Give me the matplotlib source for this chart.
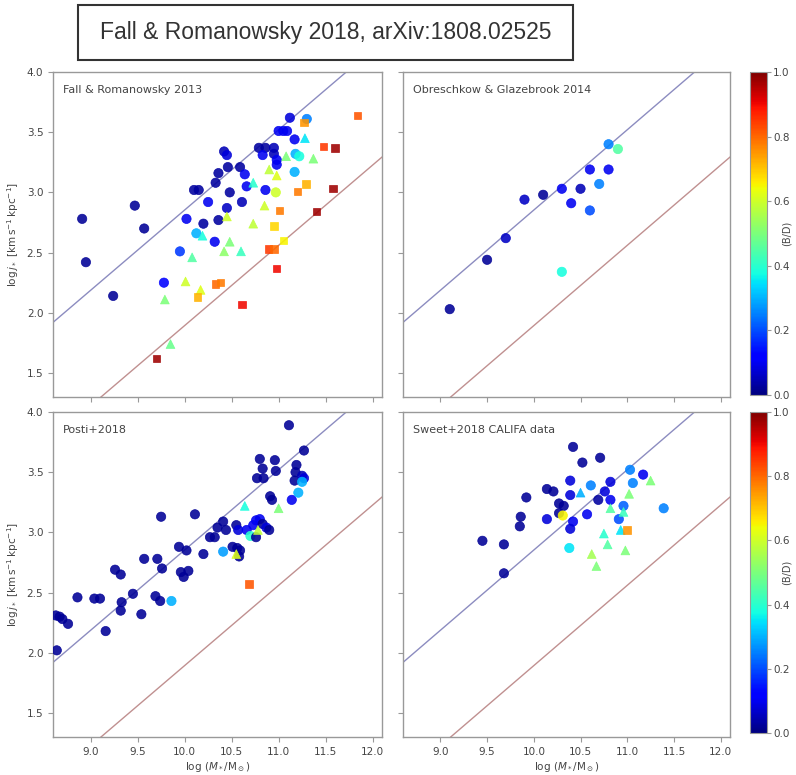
import numpy as np
import matplotlib
matplotlib.use("Agg")
import matplotlib.pyplot as plt
from matplotlib.patches import Rectangle

# ---- Fall & Romanowsky 2013 ----
fr13_circ_x = [8.91, 8.95, 9.47, 9.57, 9.24, 9.78, 9.95, 10.02, 10.10, 10.15, 10.125, 10.20,
               10.25, 10.32, 10.33, 10.36, 10.36, 10.42, 10.45, 10.46, 10.48, 10.45, 10.59,
               10.64, 10.66, 10.61, 10.79, 10.86, 10.83, 10.86, 10.95, 10.95, 10.98, 10.98,
               11.00, 11.05, 11.09, 11.12, 11.17, 11.18, 11.22, 11.17, 11.30, 10.97]
fr13_circ_y = [2.78, 2.42, 2.89, 2.70, 2.14, 2.25, 2.51, 2.78, 3.02, 3.02, 2.66, 2.74,
               2.92, 2.59, 3.08, 3.16, 2.77, 3.34, 3.31, 3.21, 3.00, 2.87, 3.21,
               3.15, 3.05, 2.92, 3.37, 3.37, 3.31, 3.02, 3.37, 3.32, 3.27, 3.23,
               3.51, 3.51, 3.51, 3.62, 3.44, 3.32, 3.30, 3.17, 3.61, 3.00]
fr13_circ_c = [0.02, 0.02, 0.02, 0.02, 0.02, 0.12, 0.18, 0.10, 0.03, 0.03, 0.30, 0.03,
               0.10, 0.10, 0.03, 0.03, 0.03, 0.05, 0.08, 0.03, 0.03, 0.06, 0.03,
               0.10, 0.10, 0.05, 0.03, 0.03, 0.10, 0.10, 0.05, 0.05, 0.10, 0.10,
               0.10, 0.10, 0.10, 0.08, 0.10, 0.30, 0.38, 0.30, 0.25, 0.60]
fr13_tri_x = [9.79, 9.85, 10.01, 10.08, 10.17, 10.19, 10.42, 10.48, 10.60, 10.45, 10.73,
              10.85, 10.90, 10.98, 10.73, 11.08, 11.28, 11.37]
fr13_tri_y = [2.11, 1.74, 2.26, 2.46, 2.19, 2.64, 2.51, 2.59, 2.51, 2.80, 2.74,
              2.89, 3.19, 3.14, 3.08, 3.30, 3.45, 3.28]
fr13_tri_c = [0.50, 0.48, 0.60, 0.45, 0.62, 0.38, 0.52, 0.50, 0.42, 0.60, 0.58,
              0.60, 0.58, 0.62, 0.40, 0.50, 0.35, 0.50]
fr13_sq_x = [9.70, 10.14, 10.33, 10.38, 10.61, 10.89, 10.95, 10.98, 11.05, 10.95, 11.01,
             11.40, 11.20, 11.29, 11.58, 11.27, 11.48, 11.60, 11.84]
fr13_sq_y = [1.62, 2.13, 2.24, 2.25, 2.07, 2.53, 2.53, 2.37, 2.60, 2.72, 2.85,
             2.84, 3.01, 3.07, 3.03, 3.58, 3.38, 3.37, 3.64]
fr13_sq_c = [0.97, 0.72, 0.80, 0.78, 0.90, 0.85, 0.80, 0.90, 0.65, 0.68, 0.78,
             0.97, 0.78, 0.72, 0.97, 0.75, 0.85, 0.97, 0.82]

# ---- Obreschkow & Glazebrook 2014 ----
og14_x = [9.10, 9.50, 9.70, 9.90, 10.10, 10.30, 10.40, 10.50, 10.60, 10.60, 10.70,
          10.80, 10.80, 10.90, 10.30]
og14_y = [2.03, 2.44, 2.62, 2.94, 2.98, 3.03, 2.91, 3.03, 3.19, 2.85, 3.07,
          3.19, 3.40, 3.36, 2.34]
og14_c = [0.02, 0.02, 0.06, 0.06, 0.02, 0.10, 0.10, 0.05, 0.10, 0.20, 0.25,
          0.10, 0.25, 0.45, 0.38]

# ---- Posti+2018 ----
p18_circ_x = [8.63, 8.67, 8.70, 8.76, 8.64, 8.86, 9.04, 9.10, 9.16, 9.26, 9.32, 9.33, 9.32,
              9.45, 9.54, 9.57, 9.71, 9.76, 9.69, 9.74, 9.86, 9.75, 9.94, 10.02, 9.96,
              9.99, 10.04, 10.11, 10.20, 10.27, 10.32, 10.35, 10.41, 10.44, 10.55, 10.57,
              10.51, 10.56, 10.59, 10.58, 10.41, 10.66, 10.70, 10.73, 10.76, 10.80, 10.76,
              10.83, 10.87, 10.90, 10.80, 10.77, 10.84, 10.83, 10.96, 10.97, 10.91, 10.93,
              11.11, 11.19, 11.18, 11.17, 11.25, 11.27, 11.27, 11.14, 11.21, 11.25]
p18_circ_y = [2.31, 2.30, 2.28, 2.24, 2.02, 2.46, 2.45, 2.45, 2.18, 2.69, 2.65, 2.42, 2.35,
              2.49, 2.32, 2.78, 2.78, 2.70, 2.47, 2.43, 2.43, 3.13, 2.88, 2.85, 2.67,
              2.63, 2.68, 3.15, 2.82, 2.96, 2.96, 3.04, 3.09, 3.02, 3.06, 3.02,
              2.88, 2.87, 2.85, 2.80, 2.84, 3.02, 2.97, 3.06, 3.10, 3.11, 2.96,
              3.07, 3.04, 3.02, 3.61, 3.45, 3.45, 3.53, 3.60, 3.51, 3.30, 3.27,
              3.89, 3.56, 3.50, 3.43, 3.47, 3.45, 3.68, 3.27, 3.33, 3.42]
p18_circ_c = [0.02, 0.02, 0.02, 0.02, 0.02, 0.02, 0.02, 0.02, 0.02, 0.02, 0.02, 0.02, 0.02,
              0.02, 0.02, 0.02, 0.02, 0.02, 0.02, 0.02, 0.30, 0.02, 0.02, 0.02, 0.02,
              0.02, 0.02, 0.02, 0.02, 0.02, 0.02, 0.02, 0.02, 0.02, 0.02, 0.08,
              0.02, 0.02, 0.02, 0.02, 0.28, 0.10, 0.40, 0.10, 0.10, 0.10, 0.02,
              0.02, 0.08, 0.02, 0.02, 0.02, 0.02, 0.02, 0.02, 0.02, 0.02, 0.02,
              0.02, 0.02, 0.02, 0.02, 0.05, 0.08, 0.02, 0.10, 0.30, 0.30]
p18_tri_x = [10.64, 11.00, 10.78, 10.55]
p18_tri_y = [3.22, 3.20, 3.02, 2.82]
p18_tri_c = [0.38, 0.50, 0.58, 0.62]
p18_sq_x = [10.68]
p18_sq_y = [2.57]
p18_sq_c = [0.82]

# ---- Sweet+2018 CALIFA ----
s18_circ_x = [9.45, 9.68, 9.68, 9.86, 9.85, 9.92, 10.14, 10.21, 10.14, 10.27, 10.32, 10.27,
              10.31, 10.39, 10.39, 10.42, 10.39, 10.42, 10.52, 10.71, 10.38, 10.61, 10.57,
              10.76, 10.69, 10.82, 10.82, 10.91, 10.96, 11.03, 11.06, 11.17, 11.39]
s18_circ_y = [2.93, 2.90, 2.66, 3.13, 3.05, 3.29, 3.36, 3.34, 3.11, 3.24, 3.22, 3.16,
              3.14, 3.43, 3.31, 3.09, 3.03, 3.71, 3.58, 3.62, 2.87, 3.39, 3.15,
              3.34, 3.27, 3.42, 3.27, 3.11, 3.22, 3.52, 3.41, 3.48, 3.20]
s18_circ_c = [0.02, 0.02, 0.02, 0.02, 0.02, 0.02, 0.02, 0.02, 0.08, 0.02, 0.02, 0.02,
              0.65, 0.08, 0.08, 0.10, 0.08, 0.02, 0.02, 0.02, 0.35, 0.25, 0.10,
              0.08, 0.03, 0.08, 0.10, 0.20, 0.22, 0.25, 0.25, 0.10, 0.25]
s18_tri_x = [10.50, 10.82, 10.96, 11.25, 11.02, 10.93, 10.75, 10.79, 10.98, 10.62, 10.67]
s18_tri_y = [3.33, 3.20, 3.17, 3.43, 3.32, 3.02, 2.99, 2.90, 2.85, 2.82, 2.72]
s18_tri_c = [0.30, 0.45, 0.42, 0.50, 0.50, 0.35, 0.40, 0.45, 0.50, 0.55, 0.50]
s18_sq_x = [11.00]
s18_sq_y = [3.02]
s18_sq_c = [0.75]

panel_names = ["Fall & Romanowsky 2013", "Obreschkow & Glazebrook 2014",
               "Posti+2018", "Sweet+2018 CALIFA data"]

# j* ~ M*^(2/3) reference relations for discs and ellipticals, pivot at log M = 11
slope = 2.0 / 3.0
disc_norm = 3.52
ell_norm = 2.56

xlim = (8.6, 12.1)
ylim = (1.3, 4.0)
cmap = plt.get_cmap("jet")
gray = "#999999"
txt = "#444444"

fig = plt.figure(figsize=(7.96, 7.75), dpi=100)

positions = [
    [0.0666, 0.4877, 0.4133, 0.4194],
    [0.5063, 0.4877, 0.4108, 0.4194],
    [0.0666, 0.0490, 0.4133, 0.4194],
    [0.5063, 0.0490, 0.4108, 0.4194],
]

panels = [
    [(fr13_circ_x, fr13_circ_y, fr13_circ_c, "o"), (fr13_tri_x, fr13_tri_y, fr13_tri_c, "^"),
     (fr13_sq_x, fr13_sq_y, fr13_sq_c, "s")],
    [(og14_x, og14_y, og14_c, "o")],
    [(p18_circ_x, p18_circ_y, p18_circ_c, "o"), (p18_tri_x, p18_tri_y, p18_tri_c, "^"),
     (p18_sq_x, p18_sq_y, p18_sq_c, "s")],
    [(s18_circ_x, s18_circ_y, s18_circ_c, "o"), (s18_tri_x, s18_tri_y, s18_tri_c, "^"),
     (s18_sq_x, s18_sq_y, s18_sq_c, "s")],
]
sizes = {"o": 45, "^": 40, "s": 28}

xx = np.linspace(xlim[0], xlim[1], 50)
for i, (pos, groups) in enumerate(zip(positions, panels)):
    ax = fig.add_axes(pos)
    ax.plot(xx, disc_norm + slope * (xx - 11), color="#8c8cc0", lw=1.0, zorder=1)
    ax.plot(xx, ell_norm + slope * (xx - 11), color="#c09090", lw=1.0, zorder=1)
    for gx, gy, gc, mk in groups:
        ax.scatter(gx, gy, c=gc, cmap=cmap, vmin=0, vmax=1, marker=mk,
                   s=sizes[mk], alpha=0.88, edgecolors="face", linewidths=0.5, zorder=3)
    ax.set_xlim(xlim)
    ax.set_ylim(ylim)
    ax.set_xticks(np.arange(9.0, 12.01, 0.5))
    ax.set_yticks(np.arange(1.5, 4.01, 0.5))
    ax.tick_params(direction="out", length=3.5, width=0.8, color=gray,
                   labelsize=7.5, labelcolor=txt)
    for sp in ax.spines.values():
        sp.set_color(gray)
        sp.set_linewidth(1.0)
    ax.text(0.03, 0.945, panel_names[i], transform=ax.transAxes, fontsize=8,
            color=txt, va="center", ha="left")
    if i < 2:
        ax.tick_params(labelbottom=False)
    else:
        ax.set_xlabel(r"$\log\,(M_*/\mathrm{M}_\odot)$", fontsize=7.5, color=txt, labelpad=2)
    if i % 2 == 1:
        ax.tick_params(labelleft=False)
    else:
        ax.set_ylabel(r"$\log j_*\ [\mathrm{km\,s^{-1}\,kpc^{-1}}]$", fontsize=7.5,
                      color=txt, labelpad=4)

# colour bars for the bulge fraction; the label sits in the gap between ticks
cbar_pos = [[0.9422, 0.4903, 0.0214, 0.4168], [0.9422, 0.0542, 0.0214, 0.4142]]
for cpos in cbar_pos:
    cax = fig.add_axes(cpos)
    cb = fig.colorbar(matplotlib.cm.ScalarMappable(norm=matplotlib.colors.Normalize(0, 1), cmap=cmap),
                      cax=cax, ticks=np.arange(0, 1.01, 0.2))
    cb.outline.set_edgecolor(gray)
    cb.ax.tick_params(labelsize=7.5, labelcolor=txt, color=gray, length=3, pad=1.5)
    cb.ax.set_yticklabels(["%.1f" % t for t in np.arange(0, 1.01, 0.2)])
    fig.text(0.9885, cpos[1] + cpos[3] / 2, "(B/D)", rotation=90, fontsize=7,
             color=txt, ha="center", va="center")

# boxed headline
fig.patches.append(Rectangle((0.098, 0.9226), 0.622, 0.071, transform=fig.transFigure,
                             fill=False, edgecolor="#333333", linewidth=1.5))
fig.text(0.409, 0.958, "Fall & Romanowsky 2018, arXiv:1808.02525", fontsize=16.5,
         family="Liberation Sans", color="#333333", ha="center", va="center")

fig.savefig("out.png", dpi=100, facecolor="white")
